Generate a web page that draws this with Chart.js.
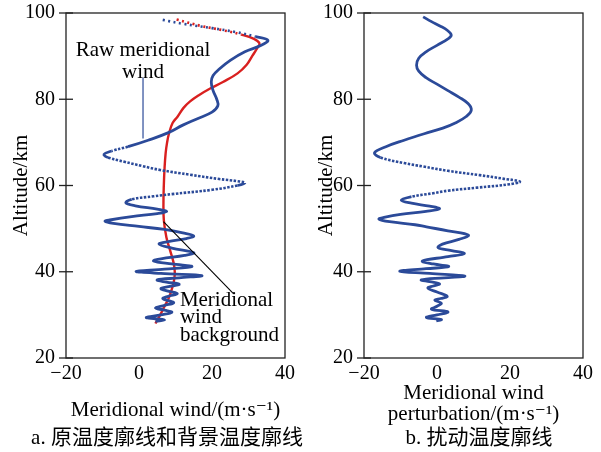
<!DOCTYPE html>
<html><head><meta charset="utf-8">
<script src="https://cdn.jsdelivr.net/npm/chart.js@4/dist/chart.umd.min.js"></script>
<style>
html,body{margin:0;padding:0;background:#fff;}
#wrap{position:relative;width:601px;height:452px;overflow:hidden;background:#fff;}
#ca{position:absolute;left:0;top:0;}
#cb{position:absolute;left:300px;top:0;}
#probe{position:absolute;left:-2000px;top:0;font-family:"Liberation Serif","DejaVu Serif",serif;font-size:20px;}
</style></head><body>
<div id="probe">Altitude 原温度 0123</div>
<div id="wrap"><canvas id="ca" width="320" height="452"></canvas><canvas id="cb" width="301" height="452"></canvas></div>
<script>
// ---------- data ----------
const altitudeTicks = [20, 40, 60, 80, 100];
const windTicks = [-20, 0, 20, 40];

const rawAltitude = [98.4,97.5,96.5,95.5,94.5,93.7,92.5,91,89,87,85.5,84,82,80,78.5,77,75.5,74,72.2,70.5,69,68,67.2,66.5,65.5,64.5,63.6,62.5,61.5,61,60.6,60,59,58,57.5,56.8,56,55.3,54.5,54,53.5,52.8,52,51.7,51.2,50.5,49.8,49,48.3,47.7,47,46.4,45.5,44.4,43.8,43,42.5,41.8,41.2,40.6,40.1,39.6,39.1,38.6,38.1,37.6,37.1,36.6,36.1,35.5,34.9,34.3,33.8,33.3,32.8,32.2,31.6,31.1,30.6,30,29.4,29.1,28.8,28.5];
const rawWind = [6.5,12,20,27,32,35.3,33.5,29,25,22,20.3,19.8,20.3,21.3,21.6,20,16,12,7.9,2.5,-3,-7.5,-9.6,-8.5,-4,1,5.8,14,22,27,29,27,20,9,4,-2,-3.6,-1,5,7.6,5,-2,-8,-9.3,-7,0,7,12,15,13,8,5.5,9,15,12.5,6,4,9,14.5,7,-0.8,6,17.2,11,5,7.5,11,8.5,6,8,10.5,8,6.5,8,9.5,7,4.5,7,9,6,2,4.5,7,4.5];

const bgAltitude = [98.5,97,96,95,94,93,92,90,88,86,84,82.5,81,79.5,78,76,74.5,72,70,67.5,64,60,56,52,48,45,42,40,38,36,34,32,30,28];
const bgWind = [10.3,17,23,28,31.5,33,32.5,31,29.5,27,23,19.5,16.5,14,12.2,10.6,9.2,8.2,7.7,7.3,7,6.8,6.7,6.8,7.5,8.5,9.5,9.8,9.6,9,8.2,7,5.8,4.5];

const pertAltitude = [99.1,98,97,96,94.9,94,92.5,91,89.5,87.9,86.5,85,83.5,82,80.5,79,77.5,76,74.5,73.3,72,70.5,69,67.6,66.5,65.2,64.4,63.4,62.4,61.6,60.9,60.3,59.5,58.8,58.2,57.4,56.6,55.9,55.2,54.6,54,53.3,52.6,52.2,51.6,50.9,50.4,49.5,48.5,47.5,46.4,45.6,44.9,44.2,43.5,42.5,41.8,41.2,40.7,40.1,39.6,39.0,38.6,38.1,37.7,37.2,36.7,36.2,35.3,34.3,33.8,33.4,32.7,32.0,31.3,30.7,30.0,29.4,28.9,28.6];
const pertWind = [-3.8,-1.5,0.8,2.8,3.9,3,0,-3,-5,-5.6,-5,-3,0,3,6,8.5,9.4,8,5,1.6,-3.5,-9,-14,-17.1,-15.5,-9,-3.8,3,11.7,18,22.7,20,11,3,-1.1,-7,-9.8,-7,-2,0.7,-3,-10,-14.5,-15.9,-13,-6,-2.9,3,8.6,6,1.5,0.3,4,7.5,3,-4,-1,3.2,-3,-10.2,-2,7.6,2,-4.3,-2,0.7,-1,-2.5,0,2.8,1,-0.6,1.2,0,-1.5,3.0,0,-2.9,1.2,-0.2];

const titleA = 'Meridional wind/(m·s⁻¹)';
const titleB = ['Meridional wind', 'perturbation/(m·s⁻¹)'];
const yTitle = 'Altitude/km';
const captionA = 'a. 原温度廓线和背景温度廓线';
const captionB = 'b. 扰动温度廓线';
const rawLabel = ['Raw meridional', 'wind'];
const bgLabel = ['Meridional', 'wind', 'background'];

// ---------- helpers ----------
const SERIF = '"Liberation Serif", "DejaVu Serif", serif';
const BLUE = '#2b4a99';
const RED = '#d9201f';
function pts(xs, ys) { return xs.map((x, i) => ({x: x, y: ys[i]})); }
function fmt(v) { return String(v).replace('-', '\u2212'); }
// sparse (dotted-looking) segments where the profile runs nearly horizontal in the upper part
function steepKind(c) {
  const p0 = c.p0.parsed, p1 = c.p1.parsed;
  const dy = Math.abs(p1.y - p0.y) || 0.01;
  const lo = Math.min(p0.y, p1.y);
  if (lo <= 56.5 || Math.abs(p1.x - p0.x) / dy <= 4.2) return 0;
  return lo > 93.5 ? 2 : 1;
}
const dottedSegment = {
  borderDash: c => { const k = steepKind(c); return k === 2 ? [2, 3.5] : k === 1 ? [2.5, 1.5] : undefined; },
  borderWidth: c => steepKind(c) ? 2.6 : undefined
};

const framePlugin = {
  id: 'frame',
  afterDraw(chart, args, opts) {
    const {ctx, chartArea: a, scales} = chart;
    ctx.save();
    ctx.strokeStyle = '#222';
    ctx.lineWidth = 1.3;
    ctx.strokeRect(a.left, a.top, a.right - a.left, a.bottom - a.top);
    altitudeTicks.forEach(t => {
      const y = scales.y.getPixelForValue(t);
      ctx.beginPath();
      ctx.moveTo(a.left - 7, y);
      ctx.lineTo(a.left + 7, y);
      ctx.stroke();
    });
    ctx.fillStyle = '#000';
    ctx.font = '21px "Liberation Serif", "Noto Sans CJK SC", serif';
    ctx.textAlign = 'center';
    ctx.textBaseline = 'middle';
    ctx.fillText(opts.caption, opts.cx, 438);
    ctx.restore();
  }
};

const annotPlugin = {
  id: 'annot',
  afterDatasetsDraw(chart) {
    const {ctx, scales} = chart;
    const X = v => scales.x.getPixelForValue(v);
    const Y = v => scales.y.getPixelForValue(v);
    ctx.save();
    ctx.fillStyle = '#000';
    ctx.font = '21px ' + SERIF;
    ctx.textBaseline = 'middle';
    ctx.textAlign = 'center';
    ctx.fillText(rawLabel[0], X(1.1), Y(91.4));
    ctx.fillText(rawLabel[1], X(1.1), Y(86.3));
    ctx.strokeStyle = BLUE;
    ctx.lineWidth = 1.2;
    ctx.beginPath();
    ctx.moveTo(X(1.1), Y(85.0));
    ctx.lineTo(X(1.1), Y(70.9));
    ctx.stroke();
    ctx.textAlign = 'left';
    ctx.fillText(bgLabel[0], X(11.2), Y(33.3));
    ctx.fillText(bgLabel[1], X(11.2), Y(29.3));
    ctx.fillText(bgLabel[2], X(11.2), Y(25.3));
    ctx.strokeStyle = '#000';
    ctx.lineWidth = 1.1;
    ctx.beginPath();
    ctx.moveTo(X(6.7), Y(51.6));
    ctx.lineTo(X(25.8), Y(35.0));
    ctx.stroke();
    ctx.restore();
  }
};

function makeOptions(yWidth, padRight, xTitle, xTitlePad, yTitlePad, caption, cx) {
  return {
    responsive: false,
    animation: false,
    layout: {padding: {left: 0, right: padRight, top: 13, bottom: 0}},
    plugins: {
      legend: {display: false},
      tooltip: {enabled: false},
      frame: {caption: caption, cx: cx}
    },
    scales: {
      x: {
        type: 'linear', min: -20, max: 40,
        afterBuildTicks(s) { s.ticks = windTicks.map(v => ({value: v})); },
        afterFit(s) { s.height = 94; s.paddingLeft = 0; s.paddingRight = 0; },
        grid: {display: false, drawTicks: false},
        border: {display: false},
        ticks: {color: '#000', font: {family: SERIF, size: 20}, padding: 4, callback: v => fmt(v), maxRotation: 0},
        title: {display: true, text: xTitle, color: '#000', font: {family: SERIF, size: 21, lineHeight: 1.0}, padding: {top: 0, bottom: xTitlePad}}
      },
      y: {
        type: 'linear', min: 20, max: 100,
        afterBuildTicks(s) { s.ticks = altitudeTicks.map(v => ({value: v})); },
        afterFit(s) { s.width = yWidth; s.paddingTop = 0; s.paddingBottom = 0; },
        grid: {display: false, drawTicks: false},
        border: {display: false},
        ticks: {color: '#000', font: {family: SERIF, size: 20}, padding: 11, callback: v => fmt(v)},
        title: {display: true, text: yTitle, color: '#000', font: {family: SERIF, size: 21}, padding: {top: yTitlePad, bottom: 0}}
      }
    }
  };
}

function build() {
  new Chart(document.getElementById('ca'), {
    type: 'scatter',
    data: {
      datasets: [
        {data: pts(rawWind, rawAltitude), showLine: true, borderColor: BLUE, borderWidth: 2.8, pointRadius: 0, tension: 0.4, fill: false, segment: dottedSegment},
        {data: pts(bgWind, bgAltitude), showLine: true, borderColor: RED, borderWidth: 2.4, pointRadius: 0, tension: 0.4, fill: false, segment: dottedSegment}
      ]
    },
    options: makeOptions(66, 35, titleA, 31.5, 9, captionA, 167),
    plugins: [framePlugin, annotPlugin]
  });
  new Chart(document.getElementById('cb'), {
    type: 'scatter',
    data: {
      datasets: [
        {data: pts(pertWind, pertAltitude), showLine: true, borderColor: BLUE, borderWidth: 2.8, pointRadius: 0, tension: 0.4, fill: false, segment: dottedSegment}
      ]
    },
    options: makeOptions(64, 18, titleB, 27.5, 14, captionB, 179),
    plugins: [framePlugin]
  });
}
Promise.all([
  document.fonts.load('20px "Liberation Serif"'),
  document.fonts.load('21px "Noto Sans CJK SC"', '原')
]).then(build, build);
</script>
</body></html>
